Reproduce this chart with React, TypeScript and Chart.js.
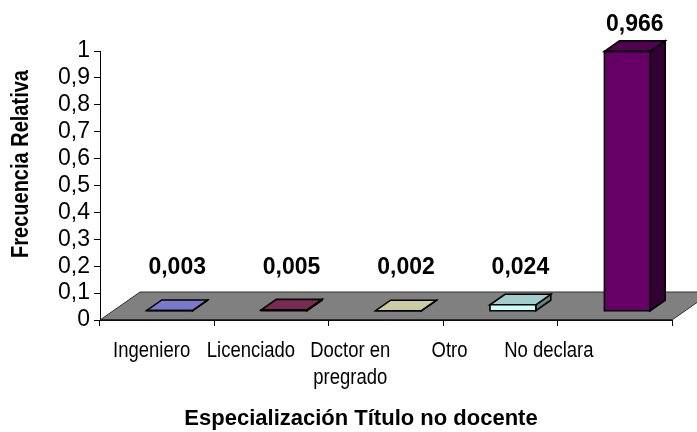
import React, { useEffect, useRef } from 'react';
import { Chart, registerables } from 'chart.js';

Chart.register(...registerables);

const categories: string[][] = [['Ingeniero'], ['Licenciado'], ['Doctor en', 'pregrado'], ['Otro'], ['No declara']];
const values: number[] = [0.003, 0.005, 0.002, 0.024, 0.966];
const valueLabels: string[] = ['0,003', '0,005', '0,002', '0,024', '0,966'];
const frontColors: string[] = ['#9999FF', '#993366', '#FFFFCC', '#CCFFFF', '#660066'];
const yTickValues: number[] = [0, 0.1, 0.2, 0.3, 0.4, 0.5, 0.6, 0.7, 0.8, 0.9, 1];
const yTickLabels: string[] = ['0', '0,1', '0,2', '0,3', '0,4', '0,5', '0,6', '0,7', '0,8', '0,9', '1'];
const xTitle = 'Especialización Título no docente';
const yTitle = 'Frecuencia Relativa';

const FONT = '"Liberation Sans", Arial, sans-serif';
const FLOOR_DX = 40;
const FLOOR_DY = -28;
const BAR_DX = 15;
const BAR_DY = -10.5;

function shade(hex: string, f: number): string {
  const n = parseInt(hex.slice(1), 16);
  const r = Math.round(((n >> 16) & 255) * f);
  const g = Math.round(((n >> 8) & 255) * f);
  const b = Math.round((n & 255) * f);
  return `rgb(${r},${g},${b})`;
}

const bar3dPlugin = {
  id: 'bar3d',
  beforeDatasetsDraw(chart: any) {
    const { ctx, chartArea } = chart;
    const { left, right, bottom } = chartArea;
    ctx.save();
    ctx.beginPath();
    ctx.moveTo(left, bottom);
    ctx.lineTo(right, bottom);
    ctx.lineTo(right + FLOOR_DX, bottom + FLOOR_DY);
    ctx.lineTo(left + FLOOR_DX, bottom + FLOOR_DY);
    ctx.closePath();
    ctx.fillStyle = '#808080';
    ctx.fill();
    ctx.lineWidth = 1;
    ctx.strokeStyle = '#333333';
    ctx.stroke();
    ctx.beginPath();
    ctx.moveTo(left, bottom);
    ctx.lineTo(right, bottom);
    ctx.strokeStyle = '#000000';
    ctx.stroke();
    ctx.restore();
  },
  afterDatasetsDraw(chart: any) {
    const { ctx, chartArea } = chart;
    const meta = chart.getDatasetMeta(0);
    const sx = (FLOOR_DX - BAR_DX) / 2;
    const sy = (FLOOR_DY - BAR_DY) / 2;
    const floorBack = chartArea.bottom + FLOOR_DY;
    ctx.save();
    ctx.lineJoin = 'miter';
    ctx.lineWidth = 1.6;
    ctx.strokeStyle = '#000000';
    meta.data.forEach((el: any, i: number) => {
      const { x, y, base, width } = el.getProps(['x', 'y', 'base', 'width'], true);
      const l = x - width / 2 + sx;
      const r = x + width / 2 + sx;
      const t = y + sy;
      const b = base + sy;
      const col = frontColors[i];
      // side
      ctx.beginPath();
      ctx.moveTo(r, t);
      ctx.lineTo(r + BAR_DX, t + BAR_DY);
      ctx.lineTo(r + BAR_DX, b + BAR_DY);
      ctx.lineTo(r, b);
      ctx.closePath();
      ctx.fillStyle = shade(col, 0.5);
      ctx.fill();
      ctx.stroke();
      // top
      ctx.beginPath();
      ctx.moveTo(l, t);
      ctx.lineTo(r, t);
      ctx.lineTo(r + BAR_DX, t + BAR_DY);
      ctx.lineTo(l + BAR_DX, t + BAR_DY);
      ctx.closePath();
      ctx.fillStyle = shade(col, 0.8);
      ctx.fill();
      ctx.stroke();
      // front
      ctx.beginPath();
      ctx.rect(l, t, r - l, b - t);
      ctx.fillStyle = col;
      ctx.fill();
      ctx.stroke();
      // value label
      const lx = (l + r) / 2 + BAR_DX / 2;
      const ly = Math.min(t + BAR_DY - 16, floorBack - 24);
      ctx.fillStyle = '#000000';
      ctx.font = `bold 23px ${FONT}`;
      ctx.textAlign = 'center';
      ctx.textBaseline = 'middle';
      ctx.fillText(valueLabels[i], lx, ly);
    });
    ctx.restore();
  },
  afterDraw(chart: any) {
    const { ctx, chartArea } = chart;
    const { left, right } = chartArea;
    const n = categories.length;
    const step = (right - left) / n;
    ctx.save();
    ctx.fillStyle = '#000000';
    ctx.font = `22px ${FONT}`;
    ctx.textAlign = 'center';
    ctx.textBaseline = 'alphabetic';
    categories.forEach((lines, i) => {
      const cx = left + (i + 0.5) * step * 0.868 + 2;
      lines.forEach((line, j) => {
        ctx.save();
        ctx.translate(cx, 357 + j * 27);
        ctx.scale(0.84, 1);
        ctx.fillText(line, 0, 0);
        ctx.restore();
      });
    });
    ctx.font = `bold 22px ${FONT}`;
    ctx.fillText(xTitle, 361, 425);
    ctx.translate(22, 164);
    ctx.rotate(-Math.PI / 2);
    ctx.scale(1, 1.15);
    ctx.textBaseline = 'middle';
    ctx.font = `bold 20px ${FONT}`;
    ctx.fillText(yTitle, 0, 0);
    ctx.restore();
  },
};

export default function App() {
  const ref = useRef<HTMLCanvasElement | null>(null);
  useEffect(() => {
    document.body.style.margin = '0';
    const canvas = ref.current;
    if (!canvas) return;
    const chart = new Chart(canvas, {
      type: 'bar',
      data: {
        labels: categories.map((c) => c.join(' ')),
        datasets: [
          {
            data: values,
            backgroundColor: 'rgba(0,0,0,0)',
            borderWidth: 0,
            barPercentage: 0.4,
            categoryPercentage: 1,
          },
        ],
      },
      options: {
        responsive: false,
        animation: false,
        devicePixelRatio: 1,
        layout: { padding: { top: 51, right: 25, left: 0, bottom: 0 } },
        plugins: { legend: { display: false }, tooltip: { enabled: false } },
        scales: {
          x: {
            type: 'category',
            offset: true,
            grid: { offset: true, drawOnChartArea: false, drawTicks: true, tickLength: 6, color: '#000000' },
            border: { color: '#000000', width: 1 },
            ticks: { display: false },
            afterFit: (s: any) => {
              s.height = 112;
            },
          },
          y: {
            min: 0,
            max: 1,
            afterBuildTicks: (s: any) => {
              s.ticks = yTickValues.map((v) => ({ value: v }));
            },
            ticks: {
              color: '#000000',
              font: { family: FONT, size: 23 },
              padding: 4,
              autoSkip: false,
              callback: (v: any) => {
                const idx = yTickValues.findIndex((t) => Math.abs(t - Number(v)) < 1e-6);
                return idx >= 0 ? yTickLabels[idx] : '';
              },
            },
            grid: { drawOnChartArea: false, drawTicks: true, tickLength: 6, color: '#000000' },
            border: { color: '#000000', width: 1 },
            afterFit: (s: any) => {
              s.width = 100;
            },
          },
        },
      },
      plugins: [bar3dPlugin],
    } as any);
    return () => chart.destroy();
  }, []);
  return (
    <div style={{ width: 697, height: 432, background: '#ffffff' }}>
      <canvas ref={ref} width={697} height={432} style={{ display: 'block' }} />
    </div>
  );
}
